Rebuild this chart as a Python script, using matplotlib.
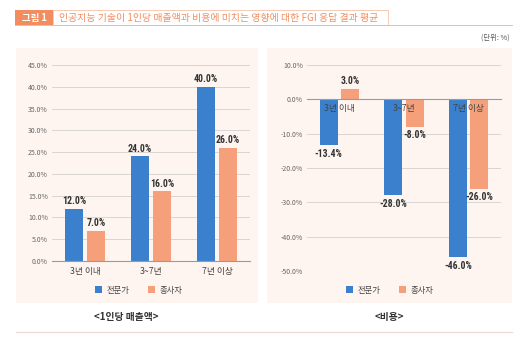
import matplotlib
matplotlib.use("Agg")
import matplotlib.pyplot as plt
from matplotlib import font_manager
from matplotlib.patches import Rectangle
from matplotlib.lines import Line2D
import numpy as np

plt.rcParams['font.family'] = ['Noto Sans CJK KR', 'DejaVu Sans']

categories = ["3년 이내", "3~7년", "7년 이상"]
series_names = ["전문가", "종사자"]
sales_expert = [12.0, 24.0, 40.0]
sales_worker = [7.0, 16.0, 26.0]
cost_expert = [-13.4, -28.0, -46.0]
cost_worker = [3.0, -8.0, -26.0]

BLUE = "#3b80cc"
ORANGE = "#f5a07a"
BG = "#fef5f1"
HEAD = "#f28d5f"
W, H = 530, 340

# condensed face for the value labels, if one is installed
installed = {f.name for f in font_manager.fontManager.ttflist}
NUM_FONT = [n for n in ['Liberation Sans Narrow', 'DejaVu Sans Condensed', 'Roboto Condensed']
            if n in installed] + ['Noto Sans CJK KR', 'DejaVu Sans']
NUM_SIZE = 7 if NUM_FONT[0] != 'Noto Sans CJK KR' else 6.3


def fx(px):
    return px / W


def fy(py):
    return 1 - py / H


fig = plt.figure(figsize=(5.3, 3.4), dpi=100)

# header
fig.add_artist(Rectangle((fx(15), fy(25)), fx(38), 15 / H, transform=fig.transFigure,
                         facecolor=HEAD, edgecolor="none"))
fig.add_artist(Rectangle((fx(53), fy(25)), fx(335), 15 / H, transform=fig.transFigure,
                         facecolor="white", edgecolor="#f6c3a8", lw=0.6))
fig.add_artist(Line2D([fx(15), fx(512)], [fy(25), fy(25)], transform=fig.transFigure,
                      color="#f6b896", lw=0.7))
fig.text(fx(34), fy(17.5), "그림 1", color="white", fontsize=6.8, fontweight="bold",
         ha="center", va="center")
fig.text(fx(59), fy(17.5), "인공지능 기술이 1인당 매출액과 비용에 미치는 영향에 대한 FGI 응답 결과 평균",
         color=HEAD, fontsize=7.1, ha="left", va="center")
fig.text(fx(510), fy(38), "(단위: %)", color="#555555", fontsize=5.3, ha="right", va="center")

# panel backgrounds
fig.add_artist(Rectangle((fx(16), fy(303)), fx(242), 255 / H, transform=fig.transFigure,
                         facecolor=BG, edgecolor="none", zorder=0))
fig.add_artist(Rectangle((fx(267), fy(303)), fx(245), 255 / H, transform=fig.transFigure,
                         facecolor=BG, edgecolor="none", zorder=0))
fig.add_artist(Line2D([fx(16), fx(512)], [fy(332), fy(332)], transform=fig.transFigure,
                      color="#ead8d2", lw=0.8))

x = np.arange(len(categories))
bw = 0.28
off = 0.165


def style(ax, ylim, step):
    ax.set_facecolor("none")
    ax.set_xlim(-0.5, 2.5)
    ax.set_ylim(*ylim)
    ax.set_yticks(np.arange(ylim[0], ylim[1] + 0.01, step))
    ax.yaxis.set_major_formatter(lambda v, p: f"{v:.1f}%")
    ax.grid(axis="y", color="#d9d6d4", lw=0.7)
    ax.set_axisbelow(True)
    for s in ["top", "right", "left"]:
        ax.spines[s].set_visible(False)
    ax.spines["bottom"].set_color("#9a9a9a")
    ax.spines["bottom"].set_linewidth(0.8)
    ax.tick_params(axis="y", length=0, labelsize=5, labelcolor="#666666", pad=3)
    ax.tick_params(axis="x", length=0, labelsize=6.3, labelcolor="#444444", pad=4)
    ax.set_xticks(x, categories)


def labels(ax, bars):
    for b in bars:
        v = b.get_height()
        top = max(b.get_y(), b.get_y() + v)
        bot = min(b.get_y(), b.get_y() + v)
        xc = b.get_x() + b.get_width() / 2
        if v >= 0:
            ax.annotate(f"{v:.1f}%", (xc, top), xytext=(0, 2), textcoords="offset points",
                        ha="center", va="bottom", fontsize=NUM_SIZE, fontweight="bold",
                        color="#333333", family=NUM_FONT, zorder=6)
        else:
            ax.annotate(f"{v:.1f}%", (xc, bot), xytext=(0, -2.5), textcoords="offset points",
                        ha="center", va="top", fontsize=NUM_SIZE, fontweight="bold",
                        color="#333333", family=NUM_FONT, zorder=6)


legend_kw = dict(loc="center", bbox_transform=fig.transFigure, ncol=2, frameon=False,
                 fontsize=6, handlelength=0.8, handleheight=0.8, columnspacing=2.2,
                 handletextpad=0.6, labelcolor="#444444")

# left chart
ax1 = fig.add_axes([fx(52), fy(261), fx(198), 196 / H])
b1 = ax1.bar(x - off, sales_expert, bw, color=BLUE, label=series_names[0])
b2 = ax1.bar(x + off, sales_worker, bw, color=ORANGE, label=series_names[1])
style(ax1, (0, 45), 5)
labels(ax1, b1)
labels(ax1, b2)
ax1.legend(bbox_to_anchor=(fx(139), fy(290)), **legend_kw)
fig.text(fx(126), fy(317), "<1인당 매출액>", fontsize=7, fontweight="bold", ha="center",
         va="center", color="#333333")

# right chart: category names sit on the zero line, over the bars
ax2 = fig.add_axes([fx(307), fy(271), fx(194), 206 / H])
c1 = ax2.bar(x - off, cost_expert, bw, color=BLUE, label=series_names[0])
c2 = ax2.bar(x + off, cost_worker, bw, color=ORANGE, label=series_names[1])
style(ax2, (-50, 10), 10)
ax2.spines["bottom"].set_position(("data", 0))
ax2.tick_params(axis="x", labelbottom=False)
for xi, name in zip(x, categories):
    ax2.annotate(name, (xi, 0), xytext=(0, -3), textcoords="offset points", ha="center",
                 va="top", fontsize=6.3, color="#444444", zorder=6)
labels(ax2, c1)
labels(ax2, c2)
ax2.legend(bbox_to_anchor=(fx(390), fy(290)), **legend_kw)
fig.text(fx(389), fy(317), "<비용>", fontsize=7, fontweight="bold", ha="center",
         va="center", color="#333333")

fig.savefig("out.png", dpi=100)
